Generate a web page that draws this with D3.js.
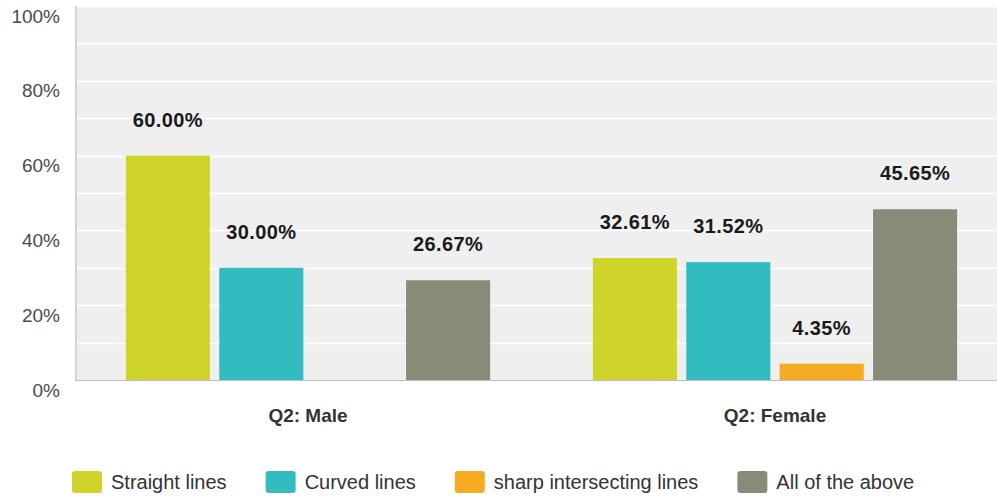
<!DOCTYPE html>
<html>
<head>
<meta charset="utf-8">
<script src="https://cdn.jsdelivr.net/npm/d3@7"></script>
<style>
  html, body { margin: 0; padding: 0; background: #ffffff; }
  svg { display: block; }
</style>
</head>
<body>
<svg id="chart" width="997" height="496"></svg>
<script>
const categories = ["Q2: Male", "Q2: Female"];
const seriesNames = ["Straight lines", "Curved lines", "sharp intersecting lines", "All of the above"];
const straightLines = [60.00, 32.61];
const curvedLines = [30.00, 31.52];
const sharpLines = [0, 4.35];
const allOfTheAbove = [26.67, 45.65];
const seriesColors = ["#cfd42a", "#33bcbf", "#f5ab22", "#8a8a79"];
const yTicks = [0, 20, 40, 60, 80, 100];
const yGrid = [0, 10, 20, 30, 40, 50, 60, 70, 80, 90, 100];

const seriesValues = [straightLines, curvedLines, sharpLines, allOfTheAbove];
const data = categories.map((c, i) => ({
  category: c,
  values: seriesNames.map((s, j) => ({ series: s, value: seriesValues[j][i], color: seriesColors[j] }))
}));

const svg = d3.select("#chart");
const plotLeft = 77, plotTop = 6, plotBottom = 380, plotRight = 997;

const y = d3.scaleLinear().domain([0, 100]).range([plotBottom, plotTop]);
const x0 = d3.scaleBand().domain(categories).range([74.5, 1008.5]).padding(0);
const bw = x0.bandwidth();
const x1 = d3.scaleBand().domain(seriesNames).range([bw * 0.11, bw * 0.89]).paddingInner(0.1).paddingOuter(0);

// background
svg.append("rect")
  .attr("x", plotLeft).attr("y", plotTop)
  .attr("width", plotRight - plotLeft).attr("height", plotBottom - plotTop)
  .attr("fill", "#efefef");

// gridlines
svg.append("g").selectAll("line").data(yGrid.filter(d => d > 0)).join("line")
  .attr("x1", plotLeft).attr("x2", plotRight)
  .attr("y1", d => Math.round(y(d)) + 0.5).attr("y2", d => Math.round(y(d)) + 0.5)
  .attr("stroke", "#ffffff").attr("stroke-width", 1.5);

// y axis labels
const yAxis = d3.axisLeft(y).tickValues(yTicks).tickFormat(d => d + "%").tickSize(0).tickPadding(0);
const yg = svg.append("g").attr("transform", "translate(60,0)").call(yAxis);
yg.select(".domain").remove();
yg.selectAll("text")
  .attr("dy", null)
  .attr("y", 16)
  .attr("x", 0)
  .attr("text-anchor", "end")
  .attr("fill", "#4a4a4a")
  .style("font-family", "'Liberation Sans', Arial, sans-serif")
  .style("font-size", "19px");

// bars
const groups = svg.append("g").selectAll("g").data(data).join("g")
  .attr("transform", d => `translate(${x0(d.category)},0)`);

groups.selectAll("rect").data(d => d.values.filter(v => v.value > 0)).join("rect")
  .attr("x", d => x1(d.series))
  .attr("y", d => y(d.value))
  .attr("width", x1.bandwidth())
  .attr("height", d => plotBottom - y(d.value))
  .attr("fill", d => d.color);

groups.selectAll("text.val").data(d => d.values.filter(v => v.value > 0)).join("text")
  .attr("class", "val")
  .attr("x", d => x1(d.series) + x1.bandwidth() / 2)
  .attr("y", d => y(d.value) - 29)
  .attr("text-anchor", "middle")
  .attr("fill", "#1a1a1a")
  .style("font-family", "'Liberation Sans', Arial, sans-serif")
  .style("font-weight", "bold")
  .style("font-size", "20px")
  .style("letter-spacing", "0.4px")
  .text(d => d.value.toFixed(2) + "%");

// axis lines
svg.append("line")
  .attr("x1", 76).attr("x2", 76).attr("y1", plotTop).attr("y2", plotBottom + 1)
  .attr("stroke", "#d4d4d4").attr("stroke-width", 2);
svg.append("line")
  .attr("x1", 75).attr("x2", plotRight).attr("y1", plotBottom + 0.5).attr("y2", plotBottom + 0.5)
  .attr("stroke", "#bdbdbd").attr("stroke-width", 1);

// x axis labels
const xAxis = d3.axisBottom(x0).tickSize(0).tickPadding(0);
const xg = svg.append("g").attr("transform", `translate(0,${plotBottom})`).call(xAxis);
xg.select(".domain").remove();
xg.selectAll("text")
  .attr("dy", null)
  .attr("y", 42)
  .attr("fill", "#333333")
  .style("font-family", "'Liberation Sans', Arial, sans-serif")
  .style("font-weight", "bold")
  .style("font-size", "19px");

// legend
const legend = svg.append("g");
let lx = 72;
seriesNames.forEach((s, i) => {
  const g = legend.append("g").attr("transform", `translate(${lx},0)`);
  g.append("rect")
    .attr("x", 0).attr("y", 471).attr("width", 30).attr("height", 22)
    .attr("rx", 3).attr("ry", 3)
    .attr("fill", seriesColors[i]);
  const t = g.append("text")
    .attr("x", 39).attr("y", 489)
    .attr("fill", "#333333")
    .style("font-family", "'Liberation Sans', Arial, sans-serif")
    .style("font-size", "20px")
    .text(s);
  const w = t.node().getComputedTextLength();
  lx += 39 + w + 39;
});
</script>
</body>
</html>
